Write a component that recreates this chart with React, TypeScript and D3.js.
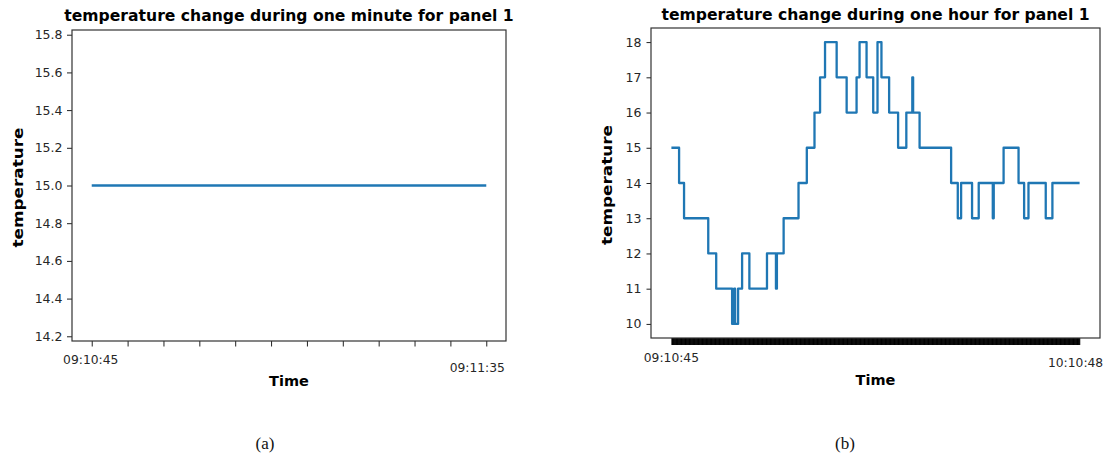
import { useEffect, useRef } from "react";
import * as d3 from "d3";

// (a) one minute of readings, every sample reads 15
const minuteTemps = [15, 15, 15, 15, 15, 15, 15, 15, 15, 15, 15, 15];
const minuteLabels = ["09:10:45", "09:11:35"];
const minuteYTicks = [14.2, 14.4, 14.6, 14.8, 15.0, 15.2, 15.4, 15.6, 15.8];

const hourMinutes = [
  0, 1.13, 1.86, 5.42, 6.59, 8.93, 9.23, 9.37, 9.81, 10.4, 11.47, 14.06, 15.38, 15.52,
  16.51, 18.7, 19.92, 21.05, 21.87, 22.6, 24.31, 25.78, 27.24, 27.68, 28.71, 29.69,
  30.32, 30.9, 32.03, 33.35, 34.56, 35.44, 35.56, 36.51, 41.15, 42.13, 42.62, 44.23,
  45.21, 47.28, 47.42, 48.87, 51.07, 51.89, 52.53, 55.07, 56.05, 60.05,
];
const hourTemps = [
  15, 14, 13, 12, 11, 10, 11, 10, 11, 12, 11, 12, 11, 12,
  13, 14, 15, 16, 17, 18, 17, 16, 17, 18, 17, 16,
  18, 17, 16, 15, 16, 17, 16, 15, 14, 13, 14, 13,
  14, 13, 14, 15, 14, 13, 14, 13, 14, 14,
];
const hourLabels = ["09:10:45", "10:10:48"];
const hourYTicks = [10, 11, 12, 13, 14, 15, 16, 17, 18];
const sampleStep = 5 / 60; // one reading every 5 s

const font = "'DejaVu Sans', sans-serif";
const blue = "#1f77b4";

export default function App() {
  const svgRef = useRef(null);

  useEffect(() => {
    const svg = d3.select(svgRef.current);
    svg.selectAll("*").remove();
    svg.append("rect").attr("width", 1108).attr("height", 463).attr("fill", "#fff");

    const styleAxis = (g) => {
      g.select(".domain").remove();
      g.selectAll("line").attr("stroke", "#222").attr("stroke-width", 1);
      g.selectAll("text").attr("font-family", font).attr("font-size", 12.5).attr("fill", "#262626");
    };

    const panel = (opt) => {
      const { left, right, top, bottom, title, titleY, yLabelX, timeY } = opt;
      const cx = (left + right) / 2;
      svg.append("text")
        .attr("x", cx).attr("y", titleY)
        .attr("text-anchor", "middle")
        .attr("font-family", font).attr("font-weight", "bold").attr("font-size", 15.6)
        .text(title);
      svg.append("text")
        .attr("transform", `translate(${yLabelX},${(top + bottom) / 2 + 2}) rotate(-90)`)
        .attr("text-anchor", "middle")
        .attr("font-family", font).attr("font-weight", "bold").attr("font-size", 14.5)
        .attr("textLength", 120).attr("lengthAdjust", "spacingAndGlyphs")
        .text("temperature");
      svg.append("text")
        .attr("x", cx).attr("y", timeY)
        .attr("text-anchor", "middle")
        .attr("font-family", font).attr("font-weight", "bold").attr("font-size", 14.5)
        .text("Time");
    };

    // ---------- panel (a) ----------
    const nA = minuteTemps.length;
    const xa = d3.scaleLinear().domain([-0.05 * (nA - 1), (nA - 1) * 1.05]).range([72, 506]);
    const ya = d3.scaleLinear().domain([14.175, 15.825]).range([341, 30]);

    svg.append("g").attr("transform", "translate(72,0)")
      .call(d3.axisLeft(ya).tickValues(minuteYTicks).tickFormat(d3.format(".1f")).tickSize(5).tickPadding(4.5))
      .call(styleAxis);
    svg.append("g").attr("transform", "translate(0,341)")
      .call(d3.axisBottom(xa).tickValues(d3.range(nA)).tickFormat(() => "").tickSize(5.5))
      .call(styleAxis);

    svg.append("path")
      .datum(minuteTemps)
      .attr("fill", "none").attr("stroke", blue).attr("stroke-width", 2.3)
      .attr("d", d3.line().x((d, i) => xa(i)).y((d) => ya(d)));

    svg.append("rect").attr("x", 72).attr("y", 30).attr("width", 434).attr("height", 311)
      .attr("fill", "none").attr("stroke", "#333").attr("stroke-width", 1.2);

    const tickTextA = [
      { x: xa(0), dx: -1, y: 364 },
      { x: xa(nA - 1), dx: -9, y: 371.5 },
    ];
    tickTextA.forEach((t, i) => {
      svg.append("text").attr("x", t.x + t.dx).attr("y", t.y).attr("text-anchor", "middle")
        .attr("font-family", font).attr("font-size", 12.3).attr("fill", "#262626")
        .text(minuteLabels[i]);
    });

    panel({ left: 72, right: 506, top: 30, bottom: 341, title: "temperature change during one minute for panel 1", titleY: 21, yLabelX: 23, timeY: 386 });

    // ---------- panel (b) ----------
    const span = hourMinutes[hourMinutes.length - 1];
    const xb = d3.scaleLinear().domain([-0.05 * span, span * 1.05]).range([651, 1100]);
    const yb = d3.scaleLinear().domain([9.6, 18.4]).range([338, 28]);

    svg.append("g").attr("transform", "translate(651,0)")
      .call(d3.axisLeft(yb).tickValues(hourYTicks).tickFormat(d3.format("d")).tickSize(4.5).tickPadding(5))
      .call(styleAxis);
    svg.append("g").attr("transform", "translate(0,338)")
      .call(d3.axisBottom(xb).tickValues(d3.range(0, span + 1e-6, sampleStep)).tickFormat(() => "").tickSize(7))
      .call(styleAxis)
      .selectAll("line").attr("stroke", "#000");

    const hourData = hourMinutes.map((m, i) => ({ m, t: hourTemps[i] }));
    svg.append("path")
      .datum(hourData)
      .attr("fill", "none").attr("stroke", blue).attr("stroke-width", 2.3)
      .attr("stroke-linejoin", "round")
      .attr("d", d3.line().curve(d3.curveStepAfter).x((d) => xb(d.m)).y((d) => yb(d.t)));

    svg.append("rect").attr("x", 651).attr("y", 28).attr("width", 449).attr("height", 310)
      .attr("fill", "none").attr("stroke", "#333").attr("stroke-width", 1.2);

    const tickTextB = [
      { x: xb(0), dx: 0, y: 361.5 },
      { x: xb(span), dx: -4, y: 366.5 },
    ];
    tickTextB.forEach((t, i) => {
      svg.append("text").attr("x", t.x + t.dx).attr("y", t.y).attr("text-anchor", "middle")
        .attr("font-family", font).attr("font-size", 12.3).attr("fill", "#262626")
        .text(hourLabels[i]);
    });

    panel({ left: 651, right: 1100, top: 28, bottom: 338, title: "temperature change during one hour for panel 1", titleY: 20, yLabelX: 611.5, timeY: 384.5 });

    // captions
    [["(a)", 265], ["(b)", 845]].forEach(([s, x]) => {
      svg.append("text").attr("x", x).attr("y", 449).attr("text-anchor", "middle")
        .attr("font-family", "'Liberation Serif', serif").attr("font-size", 17).attr("fill", "#111")
        .text(s);
    });
  }, []);

  return (
    <svg ref={svgRef} width={1108} height={463}
      style={{ position: "absolute", left: 0, top: 0, display: "block" }} />
  );
}
